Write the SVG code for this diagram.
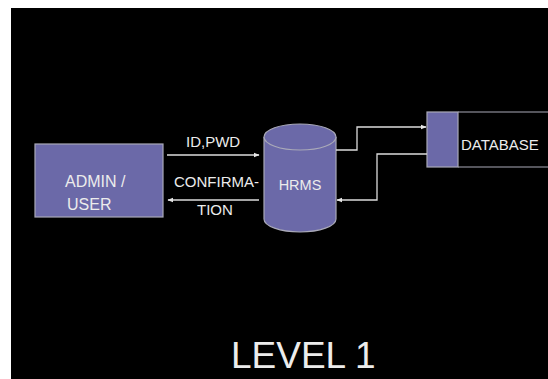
<svg xmlns="http://www.w3.org/2000/svg" width="548" height="379" viewBox="0 0 548 379">
<defs>
<style>
.t{font-family:"Liberation Sans",Arial,sans-serif;fill:#ececec}
.shape{fill:#6b69a8;stroke:#a9a9b8;stroke-width:1.2}
.c{fill:none;stroke:#dcdcdc;stroke-width:1.3}
</style>
<marker id="ah" viewBox="0 0 10 10" refX="9" refY="5" markerWidth="6" markerHeight="6" orient="auto" markerUnits="userSpaceOnUse">
<path d="M0,1 L10,5 L0,9 z" fill="#e6e6e6"/>
</marker>
</defs>
<rect x="0" y="0" width="548" height="379" fill="#ffffff"/>
<rect x="11" y="8" width="537" height="371" fill="#000000"/>
<g id="admin">
<rect class="shape" x="35" y="144" width="128" height="73"/>
<text class="t" x="65" y="187" font-size="16">ADMIN /</text>
<text class="t" x="67" y="210" font-size="16">USER</text>
</g>
<g id="hrms">
<path class="shape" d="M264,137 L264,219 A36,13 0 0 0 336,219 L336,137"/>
<ellipse class="shape" cx="300" cy="137" rx="36" ry="13"/>
<text class="t" x="300" y="190" font-size="14.5" text-anchor="middle">HRMS</text>
</g>
<g id="database">
<rect class="shape" x="427" y="112" width="31" height="55"/>
<path d="M458,112 H548 M458,167 H548" stroke="#a9a9b8" stroke-width="1.2" fill="none"/>
<text class="t" x="461" y="150" font-size="15">DATABASE</text>
</g>
<g id="connectors">
<path class="c" d="M167,155 H259" marker-end="url(#ah)"/>
<path class="c" d="M259,200 H168" marker-end="url(#ah)"/>
<path class="c" d="M336,150 H357 V127 H426" marker-end="url(#ah)"/>
<path class="c" d="M427,154 H377 V200 H337" marker-end="url(#ah)"/>
<text class="t" x="186" y="147" font-size="15">ID,PWD</text>
<text class="t" x="174" y="187" font-size="15">CONFIRMA-</text>
<text class="t" x="197" y="215" font-size="15">TION</text>
</g>
<text class="t" x="231" y="368" font-size="37">LEVEL 1</text>
</svg>
